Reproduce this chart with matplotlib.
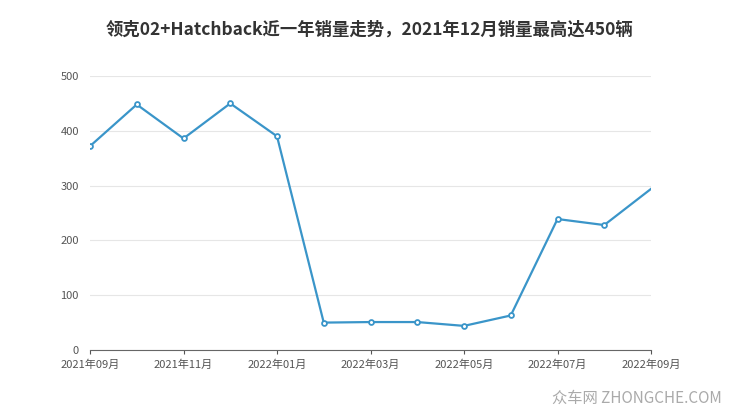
import matplotlib.pyplot as plt

plt.rcParams['font.family'] = ['Noto Sans CJK SC', 'DejaVu Sans']

months = ['2021年09月', '2021年10月', '2021年11月', '2021年12月', '2022年01月',
          '2022年02月', '2022年03月', '2022年04月', '2022年05月', '2022年06月',
          '2022年07月', '2022年08月', '2022年09月']
sales = [372, 448, 386, 450, 390, 50, 51, 51, 44, 63, 239, 228, 294]
yticks = [0, 100, 200, 300, 400, 500]

fig = plt.figure(figsize=(7.4, 4.17), dpi=100)
ax = fig.add_axes([90 / 740, 1 - 350 / 417, 561 / 740, 274 / 417])

x = list(range(len(sales)))
ax.plot(x, sales, color='#3a95c9', linewidth=1.6)
ax.plot(x[:-1], sales[:-1], 'o', markersize=3.5, markerfacecolor='white',
        markeredgecolor='#3a95c9', markeredgewidth=1.3)

ax.set_xlim(0, 12)
ax.set_ylim(0, 500)
ax.set_yticks(yticks)
ax.set_xticks(x[::2])
ax.set_xticklabels(months[::2])
ax.tick_params(axis='both', labelsize=8, colors='#555555', length=3)
ax.tick_params(axis='y', length=0, pad=8)
ax.grid(axis='y', color='#e6e6e6', linewidth=0.8)
for s in ['top', 'right', 'left']:
    ax.spines[s].set_visible(False)
ax.spines['bottom'].set_color('#666666')

fig.text(0.5, 1 - 30 / 417, '领克02+Hatchback近一年销量走势，2021年12月销量最高达450辆',
         ha='center', va='center', fontsize=12.5, fontweight='bold', color='#333333')
fig.text(1 - 18 / 740, 1 - 398 / 417, '众车网 ZHONGCHE.COM', ha='right', va='center',
         fontsize=11, color='#aaaaaa')

fig.savefig('out.png', dpi=100)
